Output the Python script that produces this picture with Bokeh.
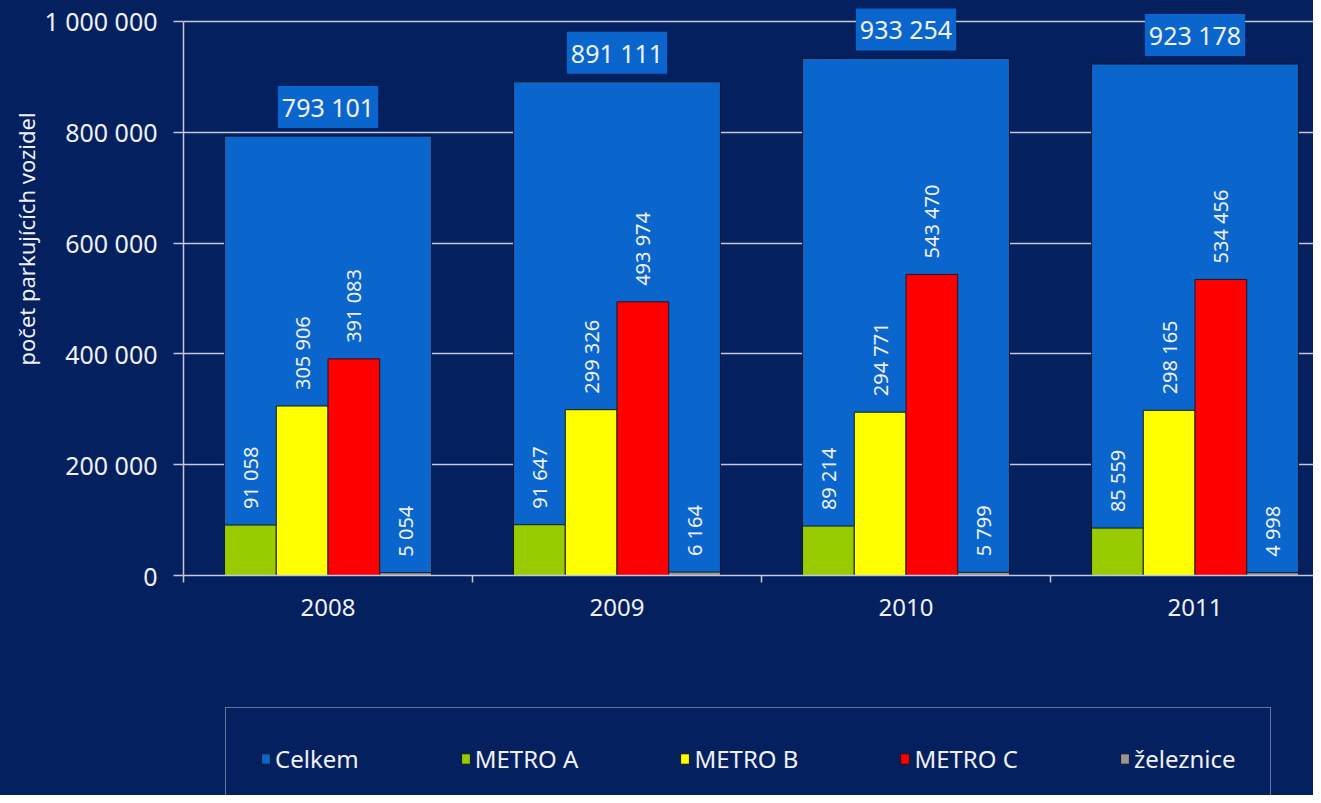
import math
from bokeh.plotting import figure
from bokeh.layouts import column
from bokeh.models import (ColumnDataSource, FixedTicker, Label, LabelSet, Legend,
                          LegendItem, Range1d, Title)
from bokeh.core.properties import value
from bokeh.embed import file_html
from bokeh.resources import INLINE

# ---- data ----
years = ["2008", "2009", "2010", "2011"]
celkem = [793101, 891111, 933254, 923178]
metro_a = [91058, 91647, 89214, 85559]
metro_b = [305906, 299326, 294771, 298165]
metro_c = [391083, 493974, 543470, 534456]
zeleznice = [5054, 6164, 5799, 4998]
series_names = ["Celkem", "METRO A", "METRO B", "METRO C", "železnice"]
y_ticks = [0, 200000, 400000, 600000, 800000, 1000000]
y_tick_labels = ["0", "200 000", "400 000", "600 000", "800 000", "1 000 000"]
y_title = "počet parkujících vozidel"

def fmt(v):
    return f"{v:,}".replace(",", " ")

BG = "#04205e"
GRID = "#c4c8dc"
TXT = "#f0f0f8"
FONT = "Noto Sans"
OUT = "#141828"
TOT_COLOR = "#0a66cc"
sub_colors = ["#99cc00", "#ffff00", "#ff0000", "#969696"]

centers = [i + 0.5 for i in range(len(years))]
sub_w = 0.179
offsets = [-1.5 * sub_w, -0.5 * sub_w, 0.5 * sub_w, 1.5 * sub_w]

p = figure(width=1313, height=700, output_backend="svg", toolbar_location=None,
           x_range=Range1d(0, 3.91), y_range=Range1d(0, 1037900),
           min_border_left=183, min_border_right=0, min_border_top=0,
           min_border_bottom=125,
           background_fill_color=BG, border_fill_color=BG, outline_line_color=None)

# grid
p.xgrid.visible = False
p.ygrid.ticker = FixedTicker(ticks=y_ticks)
p.ygrid.grid_line_color = GRID
p.ygrid.grid_line_width = 1.5

# y axis
p.yaxis.ticker = FixedTicker(ticks=y_ticks)
p.yaxis.bounds = (y_ticks[0], y_ticks[-1])
p.yaxis.major_label_overrides = {t: l for t, l in zip(y_ticks, y_tick_labels)}
p.yaxis.axis_line_color = GRID
p.yaxis.axis_line_width = 1.5
p.yaxis.major_tick_line_color = GRID
p.yaxis.major_tick_line_width = 1.5
p.yaxis.major_tick_out = 10
p.yaxis.major_tick_in = 0
p.yaxis.minor_tick_line_color = None
p.yaxis.major_label_text_color = TXT
p.yaxis.major_label_text_font = FONT
p.yaxis.major_label_text_font_size = "25px"
p.yaxis.major_label_standoff = 16

# x axis
p.xaxis.ticker = FixedTicker(ticks=centers, minor_ticks=list(range(len(years))))
p.xaxis.major_label_overrides = {c: y for c, y in zip(centers, years)}
p.xaxis.axis_line_color = GRID
p.xaxis.axis_line_width = 1.5
p.xaxis.major_tick_line_color = None
p.xaxis.minor_tick_line_color = GRID
p.xaxis.minor_tick_line_width = 1.5
p.xaxis.minor_tick_out = 7
p.xaxis.minor_tick_in = 0
p.xaxis.major_label_text_color = TXT
p.xaxis.major_label_text_font = FONT
p.xaxis.major_label_text_font_size = "24px"
p.xaxis.major_label_standoff = 16

# bars
src_tot = ColumnDataSource(dict(x=centers, top=celkem, lab=[fmt(v) for v in celkem]))
p.vbar(x="x", top="top", width=4 * sub_w, source=src_tot,
       fill_color=TOT_COLOR, line_color=OUT, line_width=1)

sub_series = [metro_a, metro_b, metro_c, zeleznice]
for vals, off, col in zip(sub_series, offsets, sub_colors):
    src = ColumnDataSource(dict(x=[c + off for c in centers], top=vals,
                                lab=[fmt(v) for v in vals]))
    p.vbar(x="x", top="top", width=sub_w, source=src,
           fill_color=col, line_color=OUT, line_width=1)
    p.add_layout(LabelSet(x="x", y="top", text="lab", source=src,
                          angle=math.pi / 2, text_align="left",
                          text_baseline="middle", y_offset=16,
                          text_color=TXT, text_font=value(FONT),
                          text_font_size=value("20px")))

# total labels in boxes
for c, v in zip(centers, celkem):
    p.add_layout(Label(x=c, y=v, text=fmt(v), text_align="center",
                       text_baseline="bottom", y_offset=8,
                       text_color=TXT, text_font=FONT, text_font_size="25px",
                       background_fill_color=TOT_COLOR, padding=4))

# y title
p.add_layout(Title(text=y_title, align="left", offset=210,
                   text_color=TXT, text_font=FONT, text_font_size="22px",
                   text_font_style="normal", standoff=2), "left")

# legend strip (separate figure below the chart)
p2 = figure(width=1313, height=95, output_backend="svg", toolbar_location=None,
            x_range=Range1d(0, 1), y_range=Range1d(0, 1),
            min_border_left=0, min_border_right=0, min_border_top=0,
            min_border_bottom=0,
            background_fill_color=BG, border_fill_color=BG,
            outline_line_color=None)
p2.axis.visible = False
p2.grid.visible = False
leg_renderers = []
for col in [TOT_COLOR] + sub_colors:
    # legend-only renderers, kept entirely outside the visible ranges
    leg_renderers.append(p2.vbar(x=[-10], top=[-5], bottom=[-6], width=0.1,
                                 fill_color=col, line_color=OUT, line_width=1))
legend = Legend(items=[LegendItem(label=n, renderers=[r])
                       for n, r in zip(series_names, leg_renderers)],
                orientation="horizontal", location=(42, -15), margin=0,
                padding=34, spacing=101, glyph_width=11, glyph_height=13,
                label_standoff=4, label_text_color=TXT, label_text_font=FONT,
                label_text_font_size="24px", border_line_color=GRID,
                border_line_width=1.5, background_fill_color=BG,
                background_fill_alpha=1.0)
p2.add_layout(legend)

layout = column(p, p2, spacing=0, styles={"background-color": BG})
open("out.html", "w").write(file_html(layout, INLINE))
